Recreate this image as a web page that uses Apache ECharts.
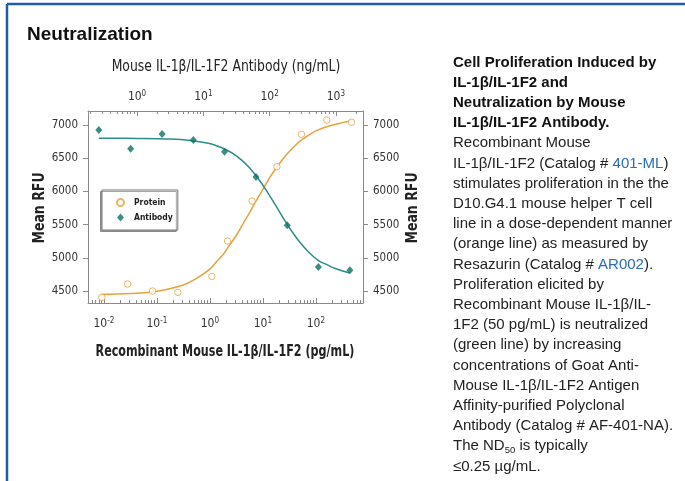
<!DOCTYPE html>
<html>
<head>
<meta charset="utf-8">
<script src="https://cdn.jsdelivr.net/npm/echarts@6/dist/echarts.min.js"></script>
<style>
html,body{margin:0;padding:0;background:#fff;}
#chart{width:685px;height:481px;}
</style>
</head>
<body>
<div id="chart"></div>
<script>
// ---- data ----
// Protein (bottom axis, pg/mL)
var proteinConc = [0.00916, 0.0280, 0.0830, 0.249, 1.09, 2.16, 6.28, 18.4, 53.7, 161, 472];
var proteinRFU  = [4405, 4605, 4500, 4480, 4720, 5253, 5855, 6372, 6860, 7075, 7040];
// Antibody (top axis, ng/mL)
var antibodyConc = [0.265, 0.802, 2.39, 7.08, 20.9, 62.4, 184.5, 545, 1630];
var antibodyRFU  = [6925, 6643, 6864, 6774, 6598, 6217, 5489, 4861, 4812];
// fitted curves
var proteinFitConc = [0.00912, 0.0316, 0.1, 0.316, 0.562, 1, 1.33, 1.78, 2.37, 3.16, 4.22, 5.62, 7.50, 10, 13.3, 17.8, 23.7, 31.6, 42.2, 56.2, 100, 178, 316, 468];
var proteinFitRFU  = [4450, 4462, 4497, 4590, 4692, 4830, 4942, 5050, 5194, 5340, 5512, 5680, 5861, 6030, 6200, 6350, 6485, 6600, 6702, 6785, 6910, 6985, 7035, 7060];
var antibodyFitConc = [0.265, 1, 3.16, 6.31, 11.9, 15.8, 21.4, 28.2, 38.3, 50.1, 68.5, 91.2, 123, 158, 219, 282, 394, 562, 705, 1000, 1630];
var antibodyFitRFU  = [6800, 6797, 6787, 6767, 6725, 6688, 6635, 6568, 6467, 6351, 6182, 6001, 5793, 5611, 5392, 5243, 5081, 4951, 4905, 4835, 4772];
// axis ticks
var bottomMajor = [-2, -1, 0, 1, 2];       // decades, pg/mL
var topMajor = [0, 1, 2, 3];               // decades, ng/mL
var yTicks = [4500, 5000, 5500, 6000, 6500, 7000];
var legendNames = ['Protein', 'Antibody'];
var titles = {
  top: 'Mouse IL-1β/IL-1F2 Antibody (ng/mL)',
  bottom: 'Recombinant Mouse IL-1β/IL-1F2 (pg/mL)',
  y: 'Mean RFU',
  panel: 'Neutralization'
};

var bottomRange = [-2.30, 2.89];
var topRange = [-0.74, 3.41];
var yRange = [4320, 7210];

function minorTicks(range) {
  var out = [];
  for (var n = Math.floor(range[0]) - 1; n <= Math.ceil(range[1]); n++) {
    for (var k = 2; k <= 9; k++) {
      var v = n + Math.log10(k);
      if (v > range[0] && v < range[1]) out.push(v);
    }
  }
  return out;
}
function toPairs(conc, vals) {
  return conc.map(function (c, i) { return [Math.log10(c), vals[i]]; });
}

var NARROW = "'DejaVu Sans Condensed','Liberation Sans Narrow','Liberation Sans',sans-serif";
var AX = '#8a8a8a';
var ORANGE = '#e8a13c';
var TEAL_LINE = '#2a8e8c';
var TEAL_PT = '#0d7064';

function expLabel(v) { return '{b|10}{s|' + Math.round(v) + '}'; }
var labelRich = {
  b: { fontSize: 12, fontFamily: NARROW, color: '#333', lineHeight: 14 },
  s: { fontSize: 8, fontFamily: NARROW, color: '#333', lineHeight: 14, padding: [0, 0, 7, 0] }
};
function plainLabel(v) { return String(v); }

var chart = echarts.init(document.getElementById('chart'), null, { renderer: 'canvas' });

var paraLines = [
  '{h|Cell Proliferation Induced by}',
  '{h|IL-1β/IL-1F2 and}',
  '{h|Neutralization by Mouse}',
  '{h|IL-1β/IL-1F2 Antibody.}',
  '{t|Recombinant Mouse}',
  '{t|IL-1β/IL-1F2 (Catalog # }{a|401-ML}{t|)}',
  '{t|stimulates proliferation in the the}',
  '{t|D10.G4.1 mouse helper T cell}',
  '{t|line in a dose-dependent manner}',
  '{t|(orange line) as measured by}',
  '{t|Resazurin (Catalog # }{a|AR002}{t|).}',
  '{t|Proliferation elicited by}',
  '{t|Recombinant Mouse IL-1β/IL-}',
  '{t|1F2 (50 pg/mL) is neutralized}',
  '{t|(green line) by increasing}',
  '{t|concentrations of Goat Anti-}',
  '{t|Mouse IL-1β/IL-1F2 Antigen}',
  '{t|Affinity-purified Polyclonal}',
  '{t|Antibody (Catalog # AF-401-NA).}',
  '{t|The ND}{sub|50}{t| is typically}',
  '{t|≤0.25 µg/mL.}'
];
var LH = 20.2;
var PF = "'Liberation Sans',Arial,sans-serif";
var PS = 15;

var option = {
  backgroundColor: '#fff',
  animation: false,
  grid: { left: 88, top: 111, right: 322, bottom: 178, containLabel: false },
  legend: {
    data: [{ name: legendNames[0], icon: 'circle' }, { name: legendNames[1], icon: 'diamond' }],
    orient: 'vertical',
    left: 102, top: 190,
    itemWidth: 7, itemHeight: 8, itemGap: 6,
    padding: [8, 5, 8, 14],
    borderColor: '#777', borderWidth: 1,
    shadowColor: 'rgba(0,0,0,0.35)', shadowBlur: 0, shadowOffsetX: -1.5, shadowOffsetY: 1.5,
    backgroundColor: '#fff',
    textStyle: { fontFamily: NARROW, fontSize: 8.5, fontWeight: 'bold', color: '#222', padding: [0, 0, 0, 5] },
    selectedMode: false
  },
  xAxis: [
    { // bottom major
      type: 'value', position: 'bottom', min: bottomRange[0], max: bottomRange[1],
      axisLine: { show: true, onZero: false, lineStyle: { color: AX, width: 1 } },
      axisTick: { show: true, inside: true, length: 5, customValues: bottomMajor, lineStyle: { color: AX } },
      axisLabel: { show: true, customValues: bottomMajor, margin: 14, formatter: expLabel, rich: labelRich },
      splitLine: { show: false }
    },
    { // bottom minor
      type: 'value', position: 'bottom', min: bottomRange[0], max: bottomRange[1],
      axisLine: { show: false, onZero: false },
      axisTick: { show: true, inside: true, length: 3, customValues: minorTicks(bottomRange), lineStyle: { color: AX } },
      axisLabel: { show: false }, splitLine: { show: false }
    },
    { // top major
      type: 'value', position: 'top', min: topRange[0], max: topRange[1],
      axisLine: { show: true, onZero: false, lineStyle: { color: AX, width: 1 } },
      axisTick: { show: true, inside: true, length: 5, customValues: topMajor, lineStyle: { color: AX } },
      axisLabel: { show: true, customValues: topMajor, margin: 7, formatter: expLabel, rich: labelRich },
      splitLine: { show: false }
    },
    { // top minor
      type: 'value', position: 'top', min: topRange[0], max: topRange[1],
      axisLine: { show: false, onZero: false },
      axisTick: { show: true, inside: true, length: 3, customValues: minorTicks(topRange), lineStyle: { color: AX } },
      axisLabel: { show: false }, splitLine: { show: false }
    }
  ],
  yAxis: [
    {
      type: 'value', position: 'left', min: yRange[0], max: yRange[1],
      axisLine: { show: true, onZero: false, lineStyle: { color: AX } },
      axisTick: { show: true, inside: false, length: 5, customValues: yTicks, lineStyle: { color: AX } },
      axisLabel: { customValues: yTicks, margin: 10, fontFamily: NARROW, fontSize: 11.5, color: '#333', formatter: plainLabel },
      splitLine: { show: false }
    },
    {
      type: 'value', position: 'right', min: yRange[0], max: yRange[1],
      axisLine: { show: true, onZero: false, lineStyle: { color: AX } },
      axisTick: { show: true, inside: false, length: 5, customValues: yTicks, lineStyle: { color: AX } },
      axisLabel: { customValues: yTicks, margin: 10, fontFamily: NARROW, fontSize: 11.5, color: '#333', formatter: plainLabel },
      splitLine: { show: false }
    }
  ],
  series: [
    {
      name: 'ProteinFit', type: 'line', xAxisIndex: 0, yAxisIndex: 0,
      data: toPairs(proteinFitConc, proteinFitRFU), smooth: 0.4, showSymbol: false, symbol: 'none',
      lineStyle: { color: ORANGE, width: 1.5 }, silent: true, z: 2
    },
    {
      name: 'AntibodyFit', type: 'line', xAxisIndex: 2, yAxisIndex: 0,
      data: toPairs(antibodyFitConc, antibodyFitRFU), smooth: 0.4, showSymbol: false, symbol: 'none',
      lineStyle: { color: TEAL_LINE, width: 1.5 }, silent: true, z: 2
    },
    {
      name: legendNames[0], type: 'scatter', xAxisIndex: 0, yAxisIndex: 0,
      data: toPairs(proteinConc, proteinRFU), symbol: 'circle', symbolSize: 6.5,
      itemStyle: { color: '#fff', borderColor: ORANGE, borderWidth: 1 }, z: 3
    },
    {
      name: legendNames[1], type: 'scatter', xAxisIndex: 2, yAxisIndex: 0,
      data: toPairs(antibodyConc, antibodyRFU), symbol: 'diamond', symbolSize: [7, 8],
      itemStyle: { color: TEAL_PT }, z: 3
    }
  ],
  graphic: [
    { type: 'line', shape: { x1: 7, y1: 4, x2: 685, y2: 4 }, style: { stroke: '#1f5e9f', lineWidth: 2.5 } },
    { type: 'line', shape: { x1: 7, y1: 4, x2: 7, y2: 481 }, style: { stroke: '#1f5e9f', lineWidth: 2.5 } },
    { type: 'text', x: 27, y: 35,
      style: { text: titles.panel, font: "bold 19px 'Liberation Sans',Arial,sans-serif", fill: '#111', textVerticalAlign: 'middle' } },
    { type: 'text', x: 226, y: 67, scaleX: 0.92,
      style: { text: titles.top, font: "15px " + NARROW, fill: '#222', textAlign: 'center', textVerticalAlign: 'middle' } },
    { type: 'text', x: 225, y: 352, scaleX: 0.80,
      style: { text: titles.bottom, font: "bold 15.5px " + NARROW, fill: '#222', textAlign: 'center', textVerticalAlign: 'middle' } },
    { type: 'text', x: 40, y: 208, rotation: Math.PI / 2, scaleX: 0.93,
      style: { text: titles.y, font: "bold 15px " + NARROW, fill: '#222', textAlign: 'center', textVerticalAlign: 'middle' } },
    { type: 'text', x: 413, y: 208, rotation: Math.PI / 2, scaleX: 0.93,
      style: { text: titles.y, font: "bold 15px " + NARROW, fill: '#222', textAlign: 'center', textVerticalAlign: 'middle' } },
    { type: 'text', left: 453, top: 55,
      style: {
        text: paraLines.join('\n'),
        fill: '#111',
        rich: {
          h: { fontFamily: PF, fontSize: PS, fontWeight: 'bold', lineHeight: LH, fill: '#111' },
          t: { fontFamily: PF, fontSize: PS, lineHeight: LH, fill: '#222' },
          a: { fontFamily: PF, fontSize: PS, lineHeight: LH, fill: '#2a6db5' },
          sub: { fontFamily: PF, fontSize: 9.5, lineHeight: LH, fill: '#222', padding: [9, 0, 0, 0] }
        }
      }
    }
  ]
};
chart.setOption(option);
</script>
</body>
</html>
